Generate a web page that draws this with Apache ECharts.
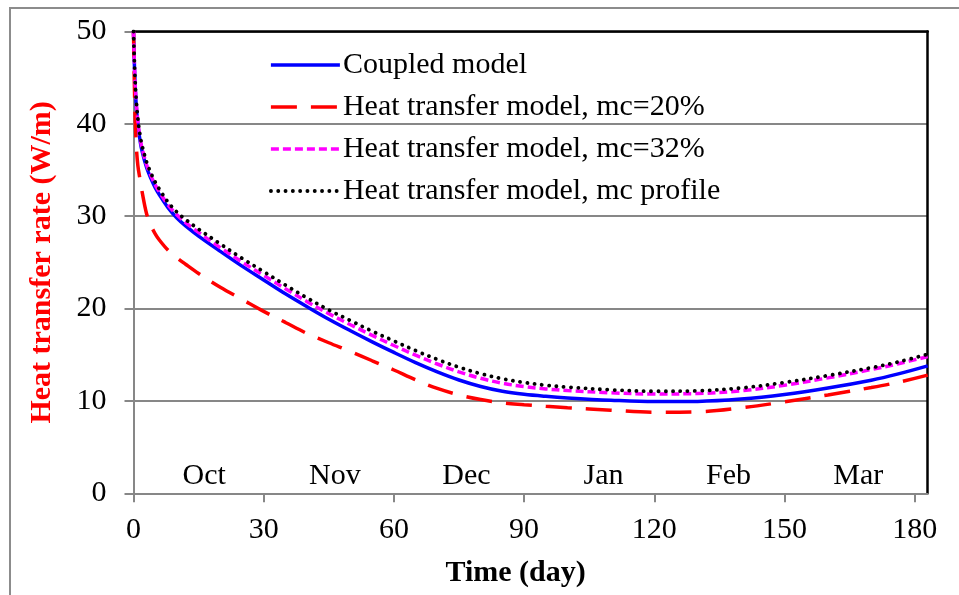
<!DOCTYPE html>
<html>
<head>
<meta charset="utf-8">
<script src="https://cdn.jsdelivr.net/npm/echarts@6/dist/echarts.min.js"></script>
<style>
  html, body { margin: 0; padding: 0; background: #ffffff; }
  #chart { width: 959px; height: 595px; }
</style>
</head>
<body>
<div id="chart"></div>
<script>
// Days since the start of the heating season (1 October)
const days = [0, 0.3, 0.6, 1, 1.5, 2, 3, 4, 5, 6, 8, 10, 12, 15, 20, 25, 30, 35, 40, 45,
  50, 55, 60, 65, 70, 75, 80, 85, 90, 95, 100, 110, 120, 130, 140, 150, 160, 170, 176, 183];

// Heat transfer rate (W/m) for each model
const coupled = [50, 45, 42.2, 40, 38.2, 37, 35.3, 34.1, 33.1, 32.3, 30.9, 29.8, 28.95, 27.85, 26.2, 24.6, 23.1, 21.6, 20.2, 18.85,
  17.6, 16.4, 15.25, 14.15, 13.15, 12.27, 11.57, 11.05, 10.72, 10.5, 10.33, 10.08, 9.93, 9.95, 10.2, 10.7, 11.4, 12.25, 12.9, 13.8];
const mc20 = [50, 42, 38, 35.5, 34.0, 32.6, 30.3, 29.0, 28.1, 27.4, 26.3, 25.5, 24.8, 23.8, 22.3, 21.0, 19.7, 18.5, 17.3, 16.3,
  15.35, 14.35, 13.35, 12.28, 11.35, 10.65, 10.15, 9.8, 9.6, 9.42, 9.27, 9.0, 8.78, 8.82, 9.25, 9.9, 10.65, 11.45, 12.0, 12.8];
const mc32 = [50, 45.3, 42.5, 40.3, 38.5, 37.3, 35.6, 34.4, 33.4, 32.6, 31.2, 30.15, 29.3, 28.25, 26.6, 25.05, 23.6, 22.15, 20.75, 19.45,
  18.25, 17.1, 16.0, 14.95, 14.0, 13.15, 12.45, 11.92, 11.55, 11.3, 11.12, 10.88, 10.75, 10.8, 11.1, 11.7, 12.5, 13.4, 14.0, 14.8];
const mcProfile = [50, 45.5, 42.8, 40.6, 38.8, 37.6, 35.9, 34.7, 33.7, 32.9, 31.5, 30.45, 29.65, 28.6, 27.0, 25.45, 24.0, 22.55, 21.15, 19.85,
  18.7, 17.55, 16.5, 15.45, 14.5, 13.65, 12.95, 12.4, 12.0, 11.7, 11.5, 11.2, 11.05, 11.1, 11.4, 12.0, 12.75, 13.6, 14.2, 15.05];

const seriesNames = [
  'Coupled model',
  'Heat transfer model, mc=20%',
  'Heat transfer model, mc=32%',
  'Heat transfer model, mc profile'
];

// Axis ticks
const xTicks = [0, 30, 60, 90, 120, 150, 180];
const yTicks = [0, 10, 20, 30, 40, 50];

// Month names, placed at the middle of each month (in days)
const monthNames = ['Oct', 'Nov', 'Dec', 'Jan', 'Feb', 'Mar'];
const monthMidDays = [16.3, 46.4, 76.7, 108.3, 137.1, 167.0];

const FONT = "'Liberation Serif', 'Times New Roman', serif";
const GRID_GRAY = '#878787';

// Line styles of the four curves
const styles = [
  { color: '#0000ff', width: 3.5, type: 'solid', cap: 'butt' },
  { color: '#ff0000', width: 3.5, type: [26, 14], cap: 'butt' },
  { color: '#ff00ff', width: 3.5, type: [8, 4], cap: 'butt' },
  { color: '#000000', width: 3.8, type: [0.1, 7.2], cap: 'round' }
];

const pairs = vals => days.map((d, i) => [d, vals[i]]);

function lineSeries(name, vals, st) {
  return {
    name: name,
    type: 'line',
    xAxisIndex: 0,
    yAxisIndex: 0,
    data: pairs(vals),
    showSymbol: false,
    symbol: 'none',
    smooth: 0.35,
    color: st.color,
    lineStyle: { color: st.color, width: st.width, type: st.type, cap: st.cap },
    z: 3
  };
}

const chart = echarts.init(document.getElementById('chart'), null, { renderer: 'canvas' });

chart.setOption({
  animation: false,
  backgroundColor: '#ffffff',
  textStyle: { fontFamily: FONT },
  graphic: [{
    type: 'rect',
    shape: { x: 10, y: 8, width: 1200, height: 1000 },
    style: { fill: 'none', stroke: '#8c8c8c', lineWidth: 2 },
    silent: true,
    z: -10
  }],
  grid: { left: 133.5, top: 31.5, right: 31.3, bottom: 101.7, containLabel: false },
  legend: {
    orient: 'vertical',
    left: 264,
    top: 45,
    itemWidth: 69,
    itemHeight: 14,
    itemGap: 12,
    data: seriesNames.map((n, i) => ({
      name: n,
      itemStyle: { opacity: 0 },
      lineStyle: { color: styles[i].color, width: styles[i].width, type: styles[i].type, cap: styles[i].cap }
    })),
    itemStyle: { opacity: 0, borderWidth: 0 },
    textStyle: { fontFamily: FONT, fontSize: 30, color: '#000', lineHeight: 30, padding: [0, 0, 0, -2] },
    selectedMode: false
  },
  xAxis: [{
    type: 'value',
    min: 0,
    max: 183,
    interval: 30,
    name: 'Time (day)',
    nameLocation: 'middle',
    nameGap: 65,
    nameTextStyle: { fontFamily: FONT, fontSize: 30, fontWeight: 'bold', color: '#000', padding: [0, 30, 0, 0] },
    axisLine: { show: true, onZero: false, lineStyle: { color: GRID_GRAY, width: 2 } },
    axisTick: { show: true, inside: false, length: 9, customValues: xTicks, lineStyle: { color: GRID_GRAY, width: 2 } },
    axisLabel: { customValues: xTicks, margin: 22, fontFamily: FONT, fontSize: 30, color: '#000' },
    splitLine: { show: false }
  }, {
    type: 'value',
    position: 'top',
    min: 0,
    max: 183,
    axisLine: { show: true, onZero: false, lineStyle: { color: '#000', width: 2.5 } },
    axisTick: { show: false },
    axisLabel: { show: false },
    splitLine: { show: false }
  }],
  yAxis: [{
    type: 'value',
    min: 0,
    max: 50,
    interval: 10,
    name: 'Heat transfer rate (W/m)',
    nameLocation: 'middle',
    nameGap: 76,
    nameTextStyle: { fontFamily: FONT, fontSize: 30, fontWeight: 'bold', color: '#ff0000' },
    axisLine: { show: true, onZero: false, lineStyle: { color: GRID_GRAY, width: 2 } },
    axisTick: { show: true, inside: false, length: 9, customValues: yTicks, lineStyle: { color: GRID_GRAY, width: 2 } },
    axisLabel: { customValues: yTicks, margin: 27, fontFamily: FONT, fontSize: 30, color: '#000' },
    splitLine: { show: true, lineStyle: { color: GRID_GRAY, width: 2 } }
  }, {
    type: 'value',
    position: 'right',
    min: 0,
    max: 50,
    axisLine: { show: true, onZero: false, lineStyle: { color: '#000', width: 2.5 } },
    axisTick: { show: false },
    axisLabel: { show: false },
    splitLine: { show: false }
  }],
  series: [
    lineSeries(seriesNames[0], coupled, styles[0]),
    lineSeries(seriesNames[1], mc20, styles[1]),
    lineSeries(seriesNames[2], mc32, styles[2]),
    lineSeries(seriesNames[3], mcProfile, styles[3]),
    {
      name: 'months',
      type: 'scatter',
      xAxisIndex: 0,
      yAxisIndex: 0,
      symbolSize: 0,
      silent: true,
      itemStyle: { opacity: 1 },
      data: monthNames.map((m, i) => ({ name: m, value: [monthMidDays[i], 1.87] })),
      label: {
        show: true,
        position: 'inside',
        formatter: p => p.name,
        fontFamily: FONT,
        fontSize: 30,
        color: '#000'
      },
      z: 4
    }
  ]
});
</script>
</body>
</html>
